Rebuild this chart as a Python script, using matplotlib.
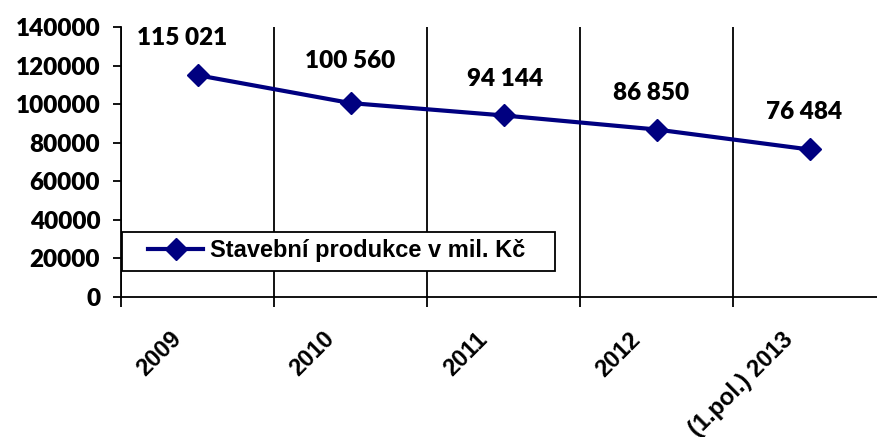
import numpy as np
import matplotlib
matplotlib.use("Agg")
import matplotlib.pyplot as plt
from matplotlib.patches import Rectangle
import matplotlib.transforms as mtransforms

categories = ["2009", "2010", "2011", "2012", "(1.pol.) 2013"]
values = [115021, 100560, 94144, 86850, 76484]
yticks = [0, 20000, 40000, 60000, 80000, 100000, 120000, 140000]
series_name = "Stavební produkce v mil. Kč"

# label offsets (points) for data labels
label_dx = [-11, 0, 1, -4, -4]
label_dy = [27, 30, 26, 26, 27]

fig = plt.figure(figsize=(8.77, 4.37), dpi=100)
W, H = 877, 437
ax = fig.add_axes([121 / W, 1 - 297 / H, 765 / W, 270 / H])

x = np.arange(len(categories))
line, = ax.plot(x, values, color="#000080", lw=3, marker="D", ms=11,
                mfc="#000080", mec="#000080", label=series_name, zorder=5)

ax.set_xlim(-0.5, len(categories) - 0.5)
ax.set_ylim(0, 140000)
ax.set_yticks(yticks)
ax.set_yticklabels([str(t) for t in yticks], fontfamily="Lato",
                   fontweight=800, fontsize=17.5)
ax.tick_params(axis="y", length=6, width=1.3, pad=9, direction="out")

ax.set_xticks(x)
ax.set_xticklabels(categories, rotation=45, ha="right",
                   fontfamily="Liberation Sans", fontweight="bold", fontsize=17)
ax.tick_params(axis="x", which="major", length=0, pad=22)
ax.set_xticks(np.arange(-0.5, len(categories), 1), minor=True)
ax.tick_params(axis="x", which="minor", length=7, width=1.3, direction="out")
ax.grid(True, axis="x", which="minor", color="black", lw=1.3)
ax.grid(False, axis="x", which="major")

offset = mtransforms.ScaledTranslation(-12 / 100, 0, fig.dpi_scale_trans)
for lbl in ax.get_xticklabels():
    lbl.set_transform(lbl.get_transform() + offset)

for s in ["top", "right"]:
    ax.spines[s].set_visible(False)
for s in ["left", "bottom"]:
    ax.spines[s].set_linewidth(1.3)
    ax.spines[s].set_color("black")

for xi, v, dx, dy in zip(x, values, label_dx, label_dy):
    ax.annotate(f"{v:,}".replace(",", " "), (xi, v), xytext=(dx, dy),
                textcoords="offset points", ha="center", va="center",
                fontfamily="Lato", fontweight=800, fontsize=17.5)

rect = Rectangle((122 / W, 1 - 271 / H), 433 / W, 39 / H,
                 transform=fig.transFigure, facecolor="white",
                 edgecolor="black", lw=1.3, zorder=3)
fig.patches.append(rect)

fs = 17
fs_px = fs * 100 / 72
leg = fig.legend(handles=[line], loc="center left",
                 bbox_to_anchor=(148 / W, 1 - 251 / H),
                 bbox_transform=fig.transFigure, frameon=False,
                 borderpad=0, borderaxespad=0,
                 handlelength=55 / fs_px, handletextpad=7 / fs_px,
                 prop={"family": "Liberation Sans", "weight": "bold", "size": fs})
leg.set_zorder(10)

fig.savefig("out.png", dpi=100)
